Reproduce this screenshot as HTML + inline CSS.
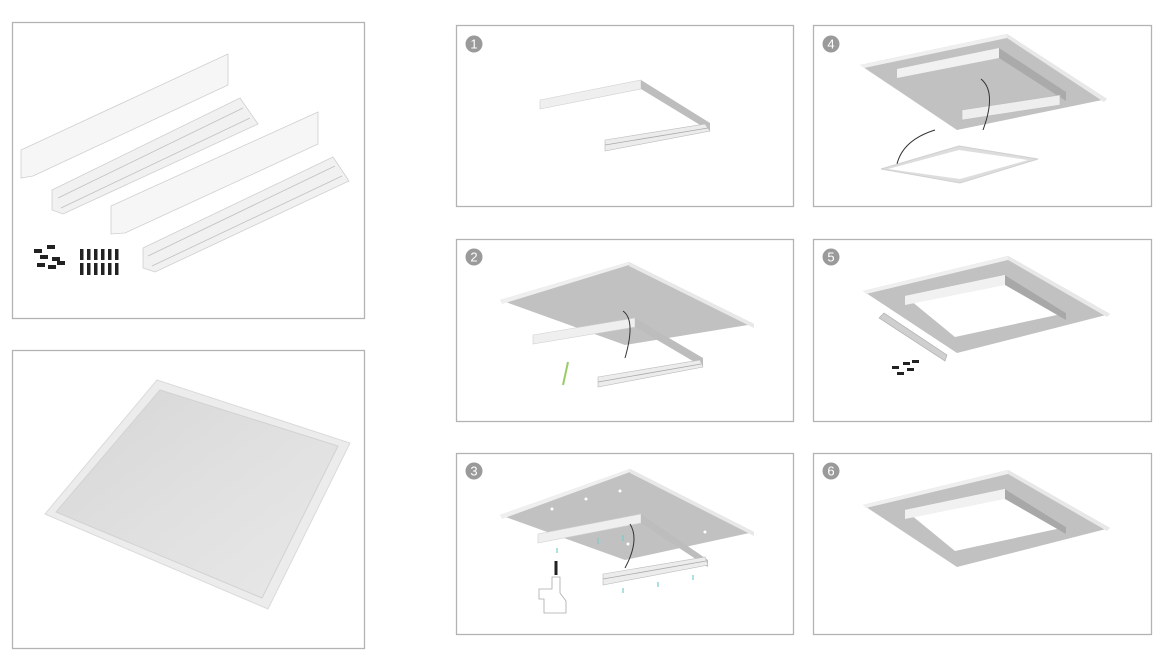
<!DOCTYPE html>
<html><head><meta charset="utf-8"><style>
html,body{margin:0;padding:0;background:#fff;width:1171px;height:662px;overflow:hidden}
svg{display:block}
text{font-family:"Liberation Sans",sans-serif}
</style></head><body>
<svg width="1171" height="662" viewBox="0 0 1171 662" xmlns="http://www.w3.org/2000/svg">
<defs>
<linearGradient id="led" x1="0" y1="0" x2="1" y2="1"><stop offset="0" stop-color="#d6d6d6"/><stop offset="0.5" stop-color="#e0e0e0"/><stop offset="1" stop-color="#e8e8e8"/></linearGradient>
</defs>
<g fill="none" stroke="#b3b3b3" stroke-width="1.3">
<rect x="12.5" y="22.5" width="352" height="296"/>
<rect x="12.5" y="350.5" width="352" height="298"/>
<rect x="456.5" y="25.5" width="337" height="181"/>
<rect x="813.5" y="25.5" width="338" height="181"/>
<rect x="456.5" y="239.5" width="337" height="182"/>
<rect x="813.5" y="239.5" width="338" height="182"/>
<rect x="456.5" y="453.5" width="337" height="181"/>
<rect x="813.5" y="453.5" width="338" height="181"/>
</g>
<!-- kit parts -->
<g stroke="#cfcfcf" stroke-width="0.8">
<polygon points="21,150 228,54 228,85 33,176 21,178" fill="#f6f6f6"/>
<polygon points="52,190 240,98 258,124 63,214 52,210" fill="#f1f1f1"/>
<line x1="58" y1="198" x2="243" y2="108" stroke="#c0c0c0"/>
<line x1="61" y1="208" x2="250" y2="118" stroke="#c0c0c0"/>
<polygon points="111,206 318,112 318,144 125,233 111,234" fill="#f6f6f6"/>
<polygon points="143,248 333,157 349,181 155,272 143,268" fill="#f1f1f1"/>
<line x1="148" y1="256" x2="335" y2="166" stroke="#c0c0c0"/>
<line x1="152" y1="266" x2="342" y2="176" stroke="#c0c0c0"/>
</g>
<g fill="#222">
<rect x="34" y="249" width="8" height="4"/><rect x="47" y="245" width="8" height="4"/><rect x="40" y="255" width="8" height="4"/><rect x="52" y="257" width="8" height="4"/><rect x="37" y="263" width="8" height="4"/><rect x="48" y="265" width="8" height="4"/><rect x="57" y="261" width="8" height="4"/>
<rect x="80" y="249" width="3.5" height="11"/><rect x="87" y="249" width="3.5" height="11"/><rect x="94" y="249" width="3.5" height="11"/><rect x="101" y="249" width="3.5" height="11"/><rect x="108" y="249" width="3.5" height="11"/><rect x="115" y="249" width="3.5" height="11"/>
<rect x="80" y="263" width="3.5" height="12"/><rect x="87" y="263" width="3.5" height="12"/><rect x="94" y="263" width="3.5" height="12"/><rect x="101" y="263" width="3.5" height="12"/><rect x="108" y="263" width="3.5" height="12"/><rect x="115" y="263" width="3.5" height="12"/>
</g>
<!-- LED panel -->
<polygon points="157,380 350,443 268,609 45,514" fill="#ececec" stroke="#dadada"/>
<polygon points="160,390 338,446 262,598 56,512" fill="url(#led)" stroke="#d2d2d2"/>
<!-- circles -->
<g fill="#9a9a9a"><circle cx="474" cy="44" r="8.5"/><circle cx="831" cy="44" r="8.5"/><circle cx="474" cy="257" r="8.5"/><circle cx="831" cy="257" r="8.5"/><circle cx="474" cy="471" r="8.5"/><circle cx="831" cy="471" r="8.5"/></g>
<g fill="#fff" font-size="13" text-anchor="middle"><text x="474" y="48.5">1</text><text x="831" y="48.5">4</text><text x="474" y="261.5">2</text><text x="831" y="261.5">5</text><text x="474" y="475.5">3</text><text x="831" y="475.5">6</text></g>
<!-- panel 1 -->
<polygon points="540,100 641,80 641,89 540,109" fill="#efefef" stroke="#d0d0d0" stroke-width="0.6"/>
<polygon points="641,80 710,123 710,131 641,89" fill="#bdbdbd"/>
<polygon points="605,140 705,124 710,131 605,151" fill="#ececec" stroke="#bbb" stroke-width="0.6"/>
<line x1="605" y1="145" x2="708" y2="128" stroke="#aaa" stroke-width="0.8"/>
<!-- panel 2 -->
<polygon points="500,300 629,262 754,324 625,345" fill="#c1c1c1"/>
<polygon points="500,300 629,262 629,265 502,304" fill="#efefef"/>
<polygon points="629,262 754,324 754,328 629,266" fill="#e8e8e8"/>
<polygon points="533,335 635,318 635,327 533,344" fill="#efefef" stroke="#d0d0d0" stroke-width="0.6"/>
<polygon points="635,318 703,358 703,367 635,327" fill="#bdbdbd"/>
<polygon points="598,377 700,360 703,367 598,387" fill="#ececec" stroke="#bbb" stroke-width="0.6"/>
<line x1="598" y1="382" x2="701" y2="364" stroke="#aaa" stroke-width="0.8"/>
<path d="M623,311 Q636,320 625,358" stroke="#333" fill="none" stroke-width="1"/>
<line x1="568" y1="362" x2="563" y2="385" stroke="#9c6" stroke-width="2"/>
<!-- panel 3 -->
<polygon points="500,515 630,469 754,532 625,560" fill="#c1c1c1"/>
<polygon points="500,515 630,469 630,472 502,519" fill="#efefef"/>
<polygon points="630,469 754,532 754,536 630,473" fill="#e8e8e8"/>
<g fill="#fff"><circle cx="552" cy="509" r="1.5"/><circle cx="586" cy="499" r="1.5"/><circle cx="620" cy="491" r="1.5"/><circle cx="705" cy="532" r="1.5"/><circle cx="628" cy="544" r="1.5"/></g>
<polygon points="538,534 641,514 641,523 538,543" fill="#efefef" stroke="#d0d0d0" stroke-width="0.6"/>
<polygon points="641,514 708,560 708,567 641,523" fill="#bdbdbd"/>
<polygon points="603,574 705,557 708,565 603,585" fill="#ececec" stroke="#bbb" stroke-width="0.6"/>
<line x1="603" y1="579" x2="706" y2="561" stroke="#aaa" stroke-width="0.8"/>
<path d="M630,524 Q640,540 625,568" stroke="#333" fill="none" stroke-width="1"/>
<g stroke="#7cc" stroke-width="1.2"><line x1="557" y1="548" x2="557" y2="553"/><line x1="598" y1="538" x2="598" y2="544"/><line x1="623" y1="535" x2="623" y2="541"/><line x1="623" y1="588" x2="623" y2="593"/><line x1="658" y1="582" x2="658" y2="587"/><line x1="693" y1="575" x2="693" y2="580"/></g>
<line x1="556" y1="561" x2="556" y2="575" stroke="#222" stroke-width="3"/>
<path d="M552,577 h8 v16 l6,8 v12 h-22 v-14 h-5 v-10 h13z" fill="#fff" stroke="#aaa" stroke-width="0.8"/>
<!-- panel 4 -->
<polygon points="860,65 1007,34 1107,99 957,130" fill="#c1c1c1"/>
<polygon points="860,65 1007,34 1007,38 864,68" fill="#efefef"/>
<polygon points="1007,34 1107,99 1104,102 1007,38" fill="#e8e8e8"/>
<polygon points="897,69 999,48 999,58 897,78" fill="#f1f1f1"/>
<polygon points="999,48 1066,92 1066,101 999,58" fill="#aaa"/>
<polygon points="962,110 1060,95 1060,105 962,120" fill="#eee" stroke="#bbb" stroke-width="0.6"/>
<path d="M981,79 Q997,92 983,130" stroke="#333" fill="none" stroke-width="1"/>
<path d="M935,130 Q903,140 897,164" stroke="#333" fill="none" stroke-width="1"/>
<polygon points="881,169 959,146 1038,159 960,183" fill="#ddd" stroke="#d0d0d0"/>
<polygon points="888,169 959,150 1028,160 960,179" fill="#fff"/>
<!-- panel 5 -->
<polygon points="863,291 1008,256 1110,314 957,353" fill="#c1c1c1"/>
<polygon points="863,291 1008,256 1008,260 866,294" fill="#efefef"/>
<polygon points="1008,256 1110,314 1107,317 1008,260" fill="#e8e8e8"/>
<polygon points="905,296 1005,275 1066,313 955,337" fill="#fff"/>
<polygon points="905,296 1005,275 1005,285 905,305" fill="#f1f1f1"/>
<polygon points="1005,275 1066,313 1066,320 1005,285" fill="#a8a8a8"/>
<polygon points="879,318 884,313 947,355 945,361" fill="#cfcfcf" stroke="#aaa" stroke-width="0.6"/>
<g fill="#222"><rect x="892" y="366" width="7" height="3"/><rect x="903" y="362" width="7" height="3"/><rect x="912" y="360" width="7" height="3"/><rect x="897" y="372" width="7" height="3"/><rect x="907" y="368" width="7" height="3"/></g>
<!-- panel 6 -->
<polygon points="863,505 1008,470 1110,528 957,567" fill="#c1c1c1"/>
<polygon points="863,505 1008,470 1008,474 866,508" fill="#efefef"/>
<polygon points="1008,470 1110,528 1107,531 1008,474" fill="#e8e8e8"/>
<polygon points="905,510 1005,489 1066,527 955,551" fill="#fff"/>
<polygon points="905,510 1005,489 1005,499 905,519" fill="#f1f1f1"/>
<polygon points="1005,489 1066,527 1066,534 1005,499" fill="#a8a8a8"/>
</svg>
</body></html>
